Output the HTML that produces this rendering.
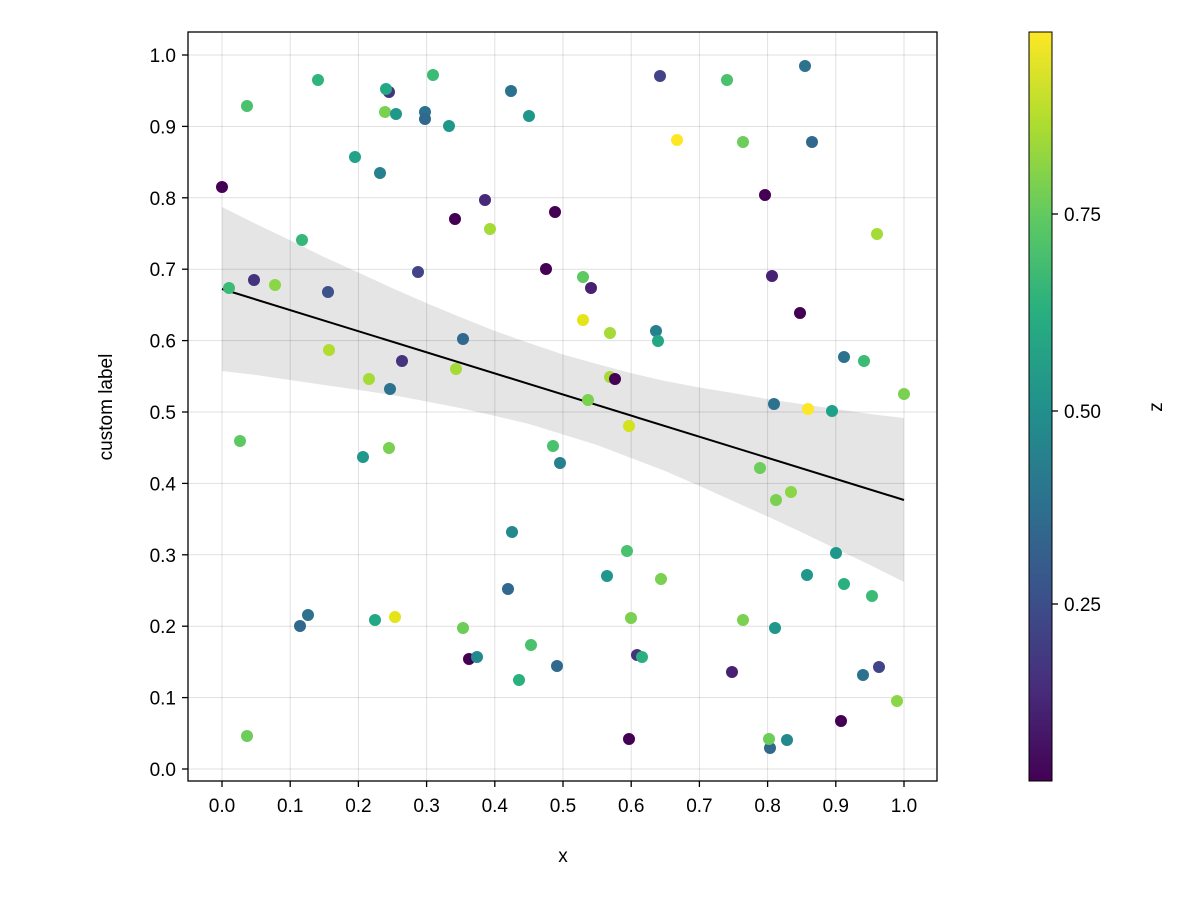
<!DOCTYPE html>
<html><head><meta charset="utf-8"><style>body{margin:0;background:#fff}svg{display:block}text{font-family:"Liberation Sans",sans-serif;font-size:19px;fill:#000}</style></head>
<body>
<svg width="1200" height="900" xmlns="http://www.w3.org/2000/svg">
<defs>
<linearGradient id="vir" x1="0" y1="1" x2="0" y2="0">
<stop offset="0" stop-color="#440154"/><stop offset="0.125" stop-color="#472d7b"/><stop offset="0.25" stop-color="#3b528b"/><stop offset="0.375" stop-color="#2c728e"/><stop offset="0.5" stop-color="#21918c"/><stop offset="0.625" stop-color="#28ae80"/><stop offset="0.75" stop-color="#5ec962"/><stop offset="0.875" stop-color="#addc30"/><stop offset="1" stop-color="#fde725"/>
</linearGradient>
</defs>
<g stroke="#000" stroke-opacity="0.12" stroke-width="1">
<line x1="222" y1="32" x2="222" y2="781"/><line x1="290.2" y1="32" x2="290.2" y2="781"/><line x1="358.4" y1="32" x2="358.4" y2="781"/><line x1="426.6" y1="32" x2="426.6" y2="781"/><line x1="494.8" y1="32" x2="494.8" y2="781"/><line x1="563" y1="32" x2="563" y2="781"/><line x1="631.2" y1="32" x2="631.2" y2="781"/><line x1="699.4" y1="32" x2="699.4" y2="781"/><line x1="767.6" y1="32" x2="767.6" y2="781"/><line x1="835.8" y1="32" x2="835.8" y2="781"/><line x1="904" y1="32" x2="904" y2="781"/>
<line x1="188" y1="769" x2="937" y2="769"/><line x1="188" y1="697.6" x2="937" y2="697.6"/><line x1="188" y1="626.2" x2="937" y2="626.2"/><line x1="188" y1="554.8" x2="937" y2="554.8"/><line x1="188" y1="483.4" x2="937" y2="483.4"/><line x1="188" y1="412" x2="937" y2="412"/><line x1="188" y1="340.6" x2="937" y2="340.6"/><line x1="188" y1="269.2" x2="937" y2="269.2"/><line x1="188" y1="197.8" x2="937" y2="197.8"/><line x1="188" y1="126.4" x2="937" y2="126.4"/><line x1="188" y1="55" x2="937" y2="55"/>
</g>
<polygon fill="#000" fill-opacity="0.1" points="222,207 256,224 290.2,240.2 324,257 358.4,272.5 392,288 426.6,303.1 460,317 494.8,330.9 529,343 563,354.5 597,364 631.2,373.1 665,381 699.4,387.5 733,393 767.6,399.1 801,404 835.8,409 870,414 904,418 904,582 870,565 835.8,548.8 801,532 767.6,516.5 733,501 699.4,485.9 665,471 631.2,458.1 597,445 563,434.5 529,424 494.8,415.9 460,408 426.6,401.5 392,395 358.4,389.9 324,385 290.2,380 256,375 222,371"/>
<line x1="222" y1="289" x2="904" y2="500" stroke="#000" stroke-width="2"/>
<g stroke="none">
<circle cx="222" cy="187" r="6" fill="#440154"/><circle cx="254" cy="280" r="6" fill="#46337e"/><circle cx="229" cy="288" r="6" fill="#3bbb75"/><circle cx="247" cy="106" r="6" fill="#4ac16d"/><circle cx="275" cy="285" r="6" fill="#8bd646"/><circle cx="240" cy="441" r="6" fill="#5ec962"/><circle cx="247" cy="736" r="6" fill="#6ccd5a"/><circle cx="318" cy="80" r="6" fill="#2fb47c"/><circle cx="302" cy="240" r="6" fill="#35b779"/><circle cx="329" cy="350" r="6" fill="#b0dd2f"/><circle cx="300" cy="626" r="6" fill="#31688e"/><circle cx="308" cy="615" r="6" fill="#2c728e"/><circle cx="355" cy="157" r="6" fill="#20a386"/><circle cx="380" cy="173" r="6" fill="#27808e"/><circle cx="389" cy="92" r="6" fill="#46337e"/><circle cx="386" cy="89" r="6" fill="#22a884"/><circle cx="385" cy="112" r="6" fill="#7ad151"/><circle cx="396" cy="114" r="6" fill="#1f988b"/><circle cx="425" cy="112" r="6" fill="#2c728e"/><circle cx="425" cy="119" r="6" fill="#31688e"/><circle cx="433" cy="75" r="6" fill="#3bbb75"/><circle cx="449" cy="126" r="6" fill="#1f988b"/><circle cx="369" cy="379" r="6" fill="#a5db36"/><circle cx="363" cy="457" r="6" fill="#1f988b"/><circle cx="390" cy="389" r="6" fill="#2c728e"/><circle cx="389" cy="448" r="6" fill="#7ad151"/><circle cx="375" cy="620" r="6" fill="#22a884"/><circle cx="395" cy="617" r="6" fill="#e5e419"/><circle cx="418" cy="272" r="6" fill="#414487"/><circle cx="328" cy="292" r="6" fill="#3b528b"/><circle cx="402" cy="361" r="6" fill="#46337e"/><circle cx="455" cy="219" r="6" fill="#440154"/><circle cx="485" cy="200" r="6" fill="#482878"/><circle cx="490" cy="229" r="6" fill="#a5db36"/><circle cx="463" cy="339" r="6" fill="#31688e"/><circle cx="456" cy="369" r="6" fill="#a5db36"/><circle cx="463" cy="628" r="6" fill="#6ccd5a"/><circle cx="469" cy="659" r="6" fill="#440154"/><circle cx="477" cy="657" r="6" fill="#23898e"/><circle cx="511" cy="91" r="6" fill="#2c728e"/><circle cx="529" cy="116" r="6" fill="#1f988b"/><circle cx="546" cy="269" r="6" fill="#440154"/><circle cx="555" cy="212" r="6" fill="#440154"/><circle cx="583" cy="277" r="6" fill="#5ec962"/><circle cx="591" cy="288" r="6" fill="#482173"/><circle cx="583" cy="320" r="6" fill="#e5e419"/><circle cx="610" cy="333" r="6" fill="#a5db36"/><circle cx="610" cy="377" r="6" fill="#a5db36"/><circle cx="615" cy="379" r="6" fill="#440154"/><circle cx="588" cy="400" r="6" fill="#7ad151"/><circle cx="629" cy="426" r="6" fill="#d2e21b"/><circle cx="553" cy="446" r="6" fill="#4ac16d"/><circle cx="560" cy="463" r="6" fill="#27808e"/><circle cx="512" cy="532" r="6" fill="#23898e"/><circle cx="508" cy="589" r="6" fill="#31688e"/><circle cx="519" cy="680" r="6" fill="#2ab07f"/><circle cx="531" cy="645" r="6" fill="#4ac16d"/><circle cx="557" cy="666" r="6" fill="#31688e"/><circle cx="607" cy="576" r="6" fill="#1f988b"/><circle cx="627" cy="551" r="6" fill="#4ac16d"/><circle cx="631" cy="618" r="6" fill="#7ad151"/><circle cx="661" cy="579" r="6" fill="#7ad151"/><circle cx="637" cy="655" r="6" fill="#46337e"/><circle cx="642" cy="657" r="6" fill="#2ab07f"/><circle cx="629" cy="739" r="6" fill="#440154"/><circle cx="660" cy="76" r="6" fill="#414487"/><circle cx="656" cy="331" r="6" fill="#27808e"/><circle cx="658" cy="341" r="6" fill="#22a884"/><circle cx="677" cy="140" r="6" fill="#fde725"/><circle cx="727" cy="80" r="6" fill="#4ac16d"/><circle cx="743" cy="142" r="6" fill="#6ccd5a"/><circle cx="765" cy="195" r="6" fill="#440154"/><circle cx="772" cy="276" r="6" fill="#482173"/><circle cx="800" cy="313" r="6" fill="#440154"/><circle cx="774" cy="404" r="6" fill="#2c728e"/><circle cx="808" cy="409" r="6" fill="#fde725"/><circle cx="832" cy="411" r="6" fill="#1fa187"/><circle cx="760" cy="468" r="6" fill="#6ccd5a"/><circle cx="776" cy="500" r="6" fill="#7ad151"/><circle cx="791" cy="492" r="6" fill="#8bd646"/><circle cx="732" cy="672" r="6" fill="#482173"/><circle cx="743" cy="620" r="6" fill="#7ad151"/><circle cx="770" cy="748" r="6" fill="#31688e"/><circle cx="769" cy="739" r="6" fill="#6ccd5a"/><circle cx="787" cy="740" r="6" fill="#23898e"/><circle cx="775" cy="628" r="6" fill="#1f988b"/><circle cx="807" cy="575" r="6" fill="#1f988b"/><circle cx="844" cy="584" r="6" fill="#2ab07f"/><circle cx="872" cy="596" r="6" fill="#3bbb75"/><circle cx="836" cy="553" r="6" fill="#1f988b"/><circle cx="844" cy="357" r="6" fill="#2c728e"/><circle cx="864" cy="361" r="6" fill="#3bbb75"/><circle cx="877" cy="234" r="6" fill="#a5db36"/><circle cx="805" cy="66" r="6" fill="#2c728e"/><circle cx="812" cy="142" r="6" fill="#31688e"/><circle cx="879" cy="667" r="6" fill="#414487"/><circle cx="863" cy="675" r="6" fill="#2c728e"/><circle cx="841" cy="721" r="6" fill="#440154"/><circle cx="897" cy="701" r="6" fill="#8bd646"/><circle cx="904" cy="394" r="6" fill="#7ad151"/>
</g>
<rect x="188" y="32" width="749" height="749" fill="none" stroke="#000" stroke-width="1.3"/>
<g stroke="#000" stroke-width="1.3">
<line x1="222" y1="781" x2="222" y2="787"/><line x1="290.2" y1="781" x2="290.2" y2="787"/><line x1="358.4" y1="781" x2="358.4" y2="787"/><line x1="426.6" y1="781" x2="426.6" y2="787"/><line x1="494.8" y1="781" x2="494.8" y2="787"/><line x1="563" y1="781" x2="563" y2="787"/><line x1="631.2" y1="781" x2="631.2" y2="787"/><line x1="699.4" y1="781" x2="699.4" y2="787"/><line x1="767.6" y1="781" x2="767.6" y2="787"/><line x1="835.8" y1="781" x2="835.8" y2="787"/><line x1="904" y1="781" x2="904" y2="787"/>
<line x1="182" y1="769" x2="188" y2="769"/><line x1="182" y1="697.6" x2="188" y2="697.6"/><line x1="182" y1="626.2" x2="188" y2="626.2"/><line x1="182" y1="554.8" x2="188" y2="554.8"/><line x1="182" y1="483.4" x2="188" y2="483.4"/><line x1="182" y1="412" x2="188" y2="412"/><line x1="182" y1="340.6" x2="188" y2="340.6"/><line x1="182" y1="269.2" x2="188" y2="269.2"/><line x1="182" y1="197.8" x2="188" y2="197.8"/><line x1="182" y1="126.4" x2="188" y2="126.4"/><line x1="182" y1="55" x2="188" y2="55"/>
<line x1="1052" y1="604" x2="1058" y2="604"/><line x1="1052" y1="411" x2="1058" y2="411"/><line x1="1052" y1="214" x2="1058" y2="214"/>
</g>
<g text-anchor="middle">
<text x="222" y="812">0.0</text><text x="290.2" y="812">0.1</text><text x="358.4" y="812">0.2</text><text x="426.6" y="812">0.3</text><text x="494.8" y="812">0.4</text><text x="563" y="812">0.5</text><text x="631.2" y="812">0.6</text><text x="699.4" y="812">0.7</text><text x="767.6" y="812">0.8</text><text x="835.8" y="812">0.9</text><text x="904" y="812">1.0</text>
<text x="563" y="862">x</text>
</g>
<g text-anchor="end">
<text x="176" y="776">0.0</text><text x="176" y="704.6">0.1</text><text x="176" y="633.2">0.2</text><text x="176" y="561.8">0.3</text><text x="176" y="490.4">0.4</text><text x="176" y="419">0.5</text><text x="176" y="347.6">0.6</text><text x="176" y="276.2">0.7</text><text x="176" y="204.8">0.8</text><text x="176" y="133.4">0.9</text><text x="176" y="62">1.0</text>
</g>
<text transform="translate(112,407) rotate(-90)" text-anchor="middle">custom label</text>
<rect x="1029" y="32" width="23" height="749" fill="url(#vir)" stroke="#000" stroke-width="1"/>
<text x="1064" y="611">0.25</text><text x="1064" y="418">0.50</text><text x="1064" y="221">0.75</text>
<text transform="translate(1162,407) rotate(-90)" text-anchor="middle">z</text>
</svg>
</body></html>
